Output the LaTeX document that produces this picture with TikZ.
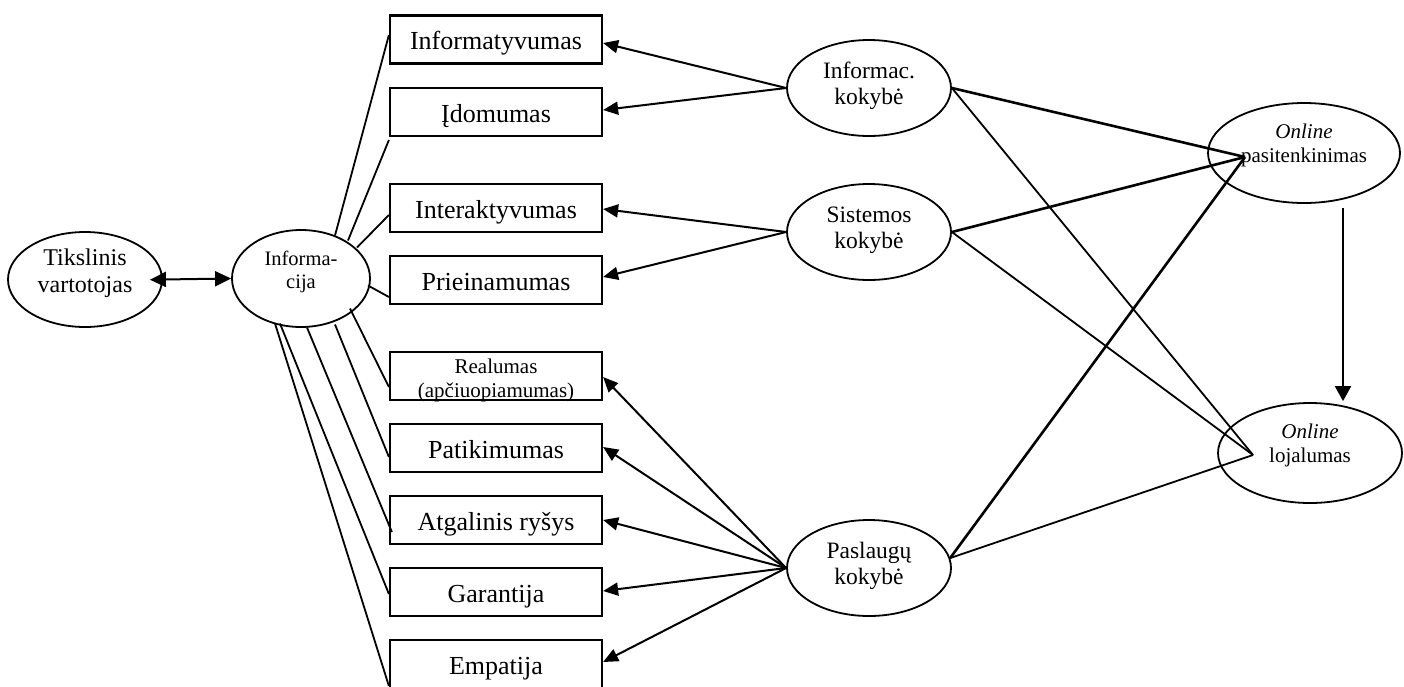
\documentclass[tikz,border=0pt]{standalone}
\usepackage{fontspec}
\setmainfont{Liberation Serif}
\usetikzlibrary{arrows.meta,shapes.geometric,calc}

\begin{document}
\begin{tikzpicture}[x=1pt,y=-1pt,
  oval/.style={ellipse, draw, line width=1.8pt, inner sep=0pt, align=center},
  leftoval/.style={oval, font=\fontsize{24}{27}\selectfont, text height=30pt, text depth=5pt},
  infooval/.style={oval, font=\fontsize{20.5}{23}\selectfont, text height=24pt, text depth=5pt},
  midoval/.style={oval, minimum width=164pt, minimum height=96pt, font=\fontsize{23.5}{26}\selectfont, text height=37pt, text depth=5pt},
  endoval/.style={oval, minimum height=100pt, font=\fontsize{21}{24}\selectfont, text height=23pt, text depth=5pt},
  box/.style={rectangle, draw, line width=2.2pt, minimum width=212pt, minimum height=48pt, inner sep=0pt, align=center, font=\fontsize{26}{30}\selectfont, text height=20pt, text depth=0pt},
  tie/.style={line width=1.8pt},
  heavy/.style={line width=2.6pt},
  arr/.style={line width=2pt, -{Triangle[length=15pt,width=13pt]}},
  dbl/.style={line width=2pt, {Triangle[length=16pt,width=15pt]}-{Triangle[length=16pt,width=15pt]}},
]
\useasboundingbox (0,0) rectangle (1404,686);

% left side
\node[leftoval, minimum width=154pt, minimum height=95pt] (tik) at (85,279.5) {Tikslinis\\vartotojas};
\node[infooval, minimum width=138pt, minimum height=97pt] (info) at (301,278.5) {Informa-\\cija};

% attribute boxes
\node[box] (b1) at (496,39.5) {Informatyvumas};
\node[box] (b2) at (496,112) {Įdomumas};
\node[box] (b3) at (496,208) {Interaktyvumas};
\node[box] (b4) at (496,280) {Prieinamumas};
\node[box, font=\fontsize{21}{24}\selectfont, text height=44pt, text depth=2pt] (b5) at (496,376) {Realumas\\(apčiuopiamumas)};
\node[box] (b6) at (496,448) {Patikimumas};
\node[box] (b7) at (496,520) {Atgalinis ryšys};
\node[box] (b8) at (496,592) {Garantija};
\node[box] (b9) at (496,664) {Empatija};

% quality dimensions
\node[midoval] (iq) at (869,88) {Informac.\\kokybė};
\node[midoval] (sq) at (869,232) {Sistemos\\kokybė};
\node[midoval] (pq) at (869,568) {Paslaugų\\kokybė};

% outcomes
\node[endoval, minimum width=192pt] (sat) at (1304,153) {\textit{Online}\\pasitenkinimas};
\node[endoval, minimum width=184pt] (loy) at (1310,453) {\textit{Online}\\lojalumas};

\coordinate (satin) at ($(sat.center)+(-59,4)$);
\coordinate (loyin) at ($(loy.center)+(-57,2)$);

% user <-> information
\draw[dbl, shorten <=-13pt] (tik.east) -- (info.west);

% information to attributes
\draw[tie] ($(info.center)+(34,-43)$) -- ([yshift=4.5pt]b1.west);
\draw[tie] ($(info.center)+(47,-38)$) -- ([yshift=-28pt]b2.west);
\draw[tie] ($(info.center)+(56,-31)$) -- ([yshift=-7pt]b3.west);
\draw[tie] ($(info.center)+(67,7)$) -- ([yshift=-17pt]b4.west);
\draw[tie] ($(info.center)+(49,30)$) -- ([yshift=-11pt]b5.west);
\draw[tie] ($(info.center)+(34,46)$) -- ([yshift=-9pt]b6.west);
\draw[tie] ($(info.center)+(6,49)$) -- ([xshift=3pt,yshift=-12pt]b7.west);
\draw[tie] ($(info.center)+(-21,45)$) -- ([yshift=-2pt]b8.west);
\draw[tie] ($(info.center)+(-26,45)$) -- ([yshift=-22pt]b9.west);

% quality dimensions to attributes
\draw[arr] (iq.west) -- ([yshift=-3.5pt]b1.east);
\draw[arr] (iq.west) -- ([yshift=2pt]b2.east);
\draw[arr] (sq.west) -- ([yshift=-1pt]b3.east);
\draw[arr] (sq.west) -- ([yshift=3pt]b4.east);
\draw[arr] (pq.west) -- ([yshift=-1pt]b5.east);
\draw[arr] (pq.west) -- ([yshift=1pt]b6.east);
\draw[arr] (pq.west) -- (b7.east);
\draw[arr] (pq.west) -- ([yshift=1pt]b8.east);
\draw[arr] (pq.west) -- ([yshift=2pt]b9.east);

% quality dimensions to outcomes
\draw[heavy] (iq.east) -- (satin);
\draw[heavy] (sq.east) -- (satin);
\draw[heavy] (pq.7) -- (satin);
\draw[tie] (iq.east) -- (loyin);
\draw[tie] (sq.east) -- (loyin);
\draw[tie] (pq.7) -- (loyin);

% satisfaction to loyalty
\draw[line width=2pt, -{Triangle[length=15pt,width=16pt]}] ([xshift=39pt,yshift=-4pt]sat.south) -- ([xshift=33pt,yshift=1pt]loy.north);
\end{tikzpicture}
\end{document}
